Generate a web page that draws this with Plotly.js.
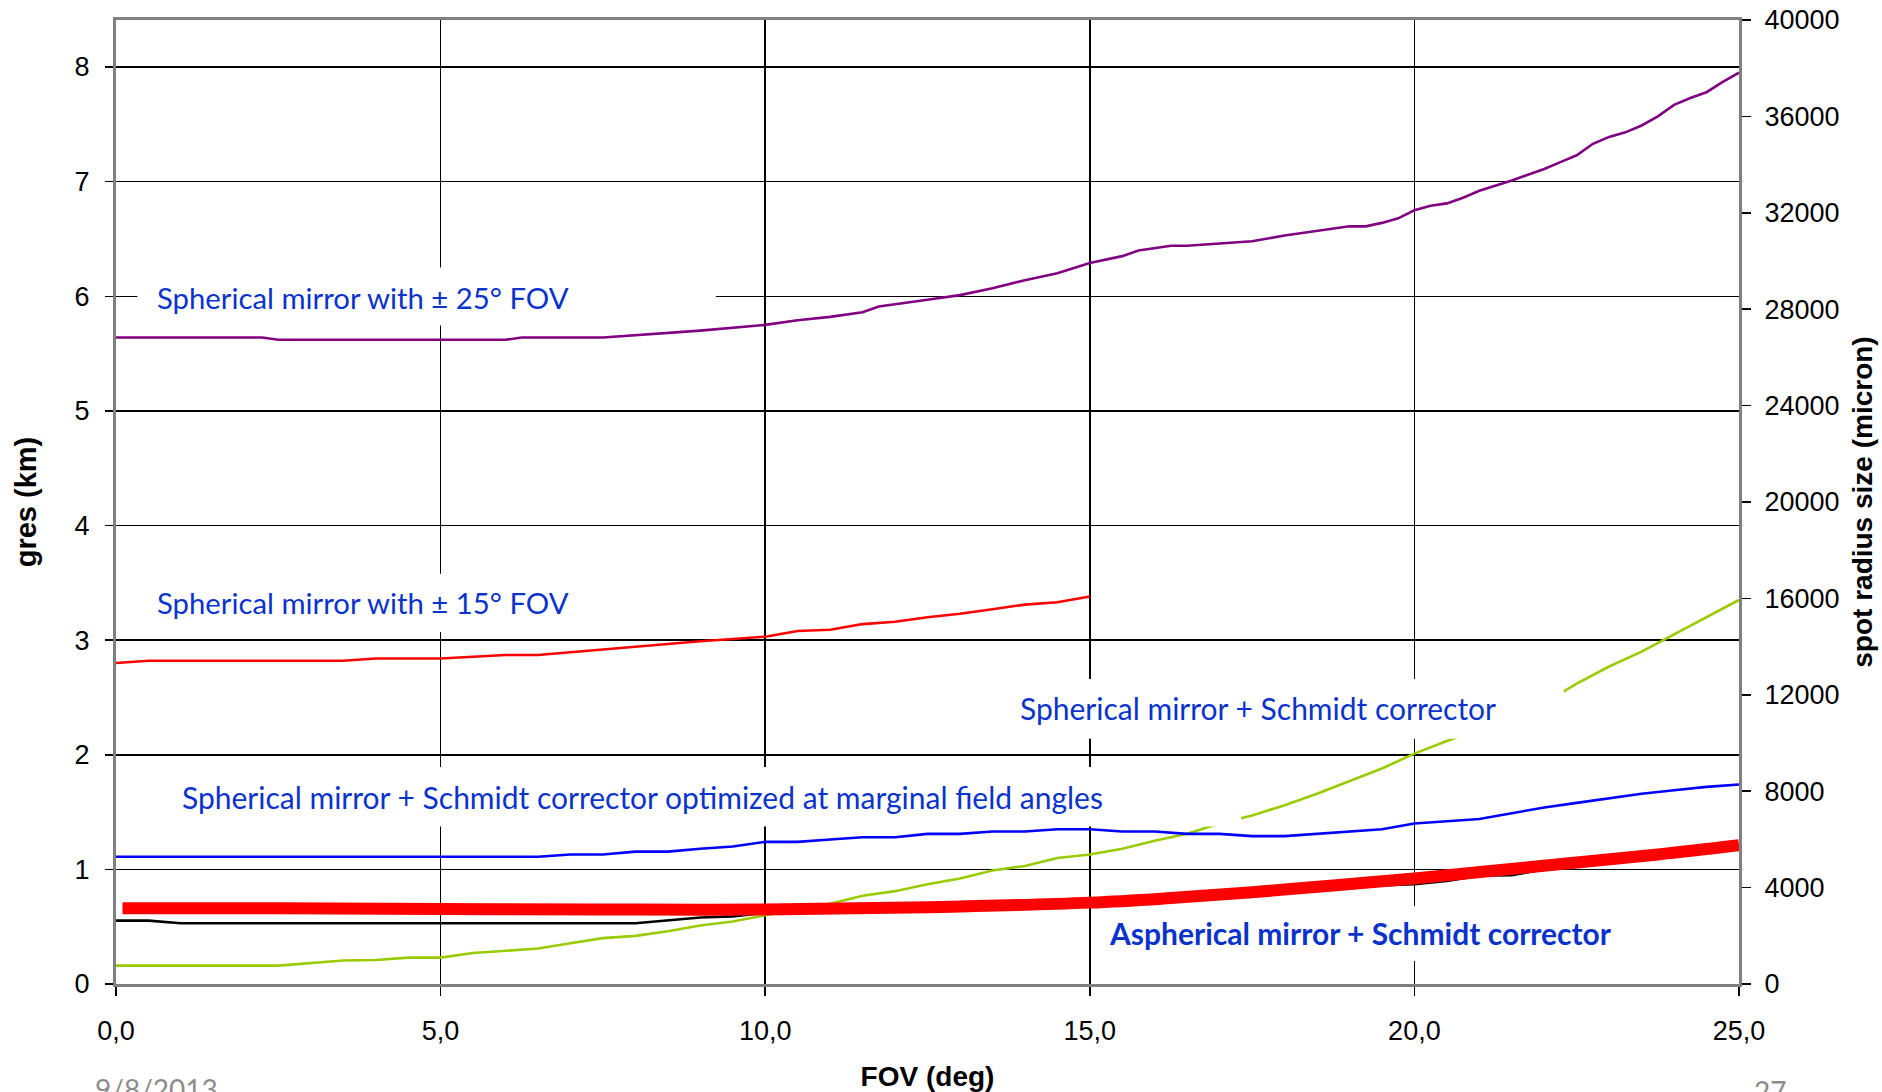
<!DOCTYPE html>
<html>
<head>
<meta charset="utf-8">
<script src="https://cdn.plot.ly/plotly-3.0.1.min.js"></script>
<style>
  html, body { margin: 0; padding: 0; background: #ffffff; overflow: hidden; }
  #chart { width: 1882px; height: 1092px; }
</style>
</head>
<body>
<div id="chart"></div>
<script>
// ---------------- data ----------------
// Spherical mirror with +-25 deg FOV (purple)
const fov25X = [0, 0.5, 2.25, 2.5, 6.0, 6.25, 7.5, 9.0, 10.0, 10.5, 11.0, 11.5, 11.75, 12.5, 13.0, 13.5, 14.0, 14.5, 15.0, 15.5, 15.75, 16.25, 16.5, 17.0, 17.5, 18.0, 18.5, 19.0, 19.25, 19.5, 19.75, 20.0, 20.25, 20.5, 20.75, 21.0, 21.5, 21.75, 22.0, 22.25, 22.5, 22.75, 23.0, 23.25, 23.5, 23.75, 24.0, 24.25, 24.5, 24.75, 25.0];
const fov25Y = [5.64, 5.64, 5.64, 5.62, 5.62, 5.64, 5.64, 5.70, 5.75, 5.79, 5.82, 5.86, 5.91, 5.97, 6.01, 6.07, 6.14, 6.20, 6.29, 6.35, 6.40, 6.44, 6.44, 6.46, 6.48, 6.53, 6.57, 6.61, 6.61, 6.64, 6.68, 6.75, 6.79, 6.81, 6.86, 6.92, 7.01, 7.06, 7.11, 7.17, 7.23, 7.33, 7.39, 7.43, 7.49, 7.57, 7.67, 7.73, 7.78, 7.87, 7.95];

// Spherical mirror with +-15 deg FOV (red, thin)
const fov15X = [0, 0.5, 3.5, 4.0, 5.0, 6.0, 6.5, 7.5, 8.0, 8.5, 9.0, 9.5, 10.0, 10.5, 11.0, 11.5, 12.0, 12.5, 13.0, 13.5, 14.0, 14.5, 15.0];
const fov15Y = [2.80, 2.82, 2.82, 2.84, 2.84, 2.87, 2.87, 2.92, 2.94, 2.97, 2.99, 3.01, 3.03, 3.08, 3.09, 3.14, 3.16, 3.20, 3.23, 3.27, 3.31, 3.33, 3.38];

// Spherical mirror + Schmidt corrector (green)
const schmidtX = [0, 2.5, 3.5, 4.0, 4.5, 5.0, 5.5, 6.0, 6.5, 7.0, 7.5, 8.0, 8.5, 9.0, 9.5, 10.0, 10.5, 11.0, 11.5, 12.0, 12.5, 13.0, 13.5, 14.0, 14.5, 15.0, 15.5, 16.0, 16.5, 17.0, 17.5, 18.0, 18.5, 19.0, 19.5, 20.0, 20.5, 21.0, 21.5, 22.0, 22.5, 23.0, 23.5, 24.0, 24.5, 25.0];
const schmidtY = [0.16, 0.16, 0.205, 0.21, 0.23, 0.23, 0.27, 0.29, 0.31, 0.355, 0.40, 0.42, 0.46, 0.51, 0.545, 0.60, 0.65, 0.70, 0.77, 0.81, 0.87, 0.92, 0.99, 1.03, 1.10, 1.13, 1.18, 1.25, 1.31, 1.40, 1.47, 1.56, 1.66, 1.77, 1.88, 2.01, 2.12, 2.22, 2.33, 2.45, 2.62, 2.77, 2.90, 3.05, 3.20, 3.35];

// Spherical mirror + Schmidt corrector optimized at marginal field angles (blue)
const optX = [0, 6.5, 7.0, 7.5, 8.0, 8.5, 9.0, 9.5, 10.0, 10.5, 11.0, 11.5, 12.0, 12.5, 13.0, 13.5, 14.0, 14.5, 15.0, 15.5, 16.0, 16.5, 17.0, 17.5, 18.0, 18.5, 19.0, 19.5, 20.0, 20.5, 21.0, 21.5, 22.0, 22.5, 23.0, 23.5, 24.0, 24.5, 25.0];
const optY = [1.11, 1.11, 1.13, 1.13, 1.155, 1.155, 1.18, 1.20, 1.24, 1.24, 1.26, 1.28, 1.28, 1.31, 1.31, 1.33, 1.33, 1.35, 1.35, 1.33, 1.33, 1.31, 1.31, 1.29, 1.29, 1.31, 1.33, 1.35, 1.40, 1.42, 1.44, 1.49, 1.54, 1.58, 1.62, 1.66, 1.69, 1.72, 1.74];

// black reference curve (mostly hidden under the thick red curve)
const blackX = [0, 0.5, 1.0, 8.0, 9.0, 9.5, 10.0, 11.0, 12.0, 13.0, 14.0, 15.0, 16.0, 17.0, 18.0, 19.0, 20.0, 20.5, 21.0, 21.5, 22.0, 22.5, 23.0, 24.0, 25.0];
const blackY = [0.553, 0.553, 0.53, 0.53, 0.58, 0.59, 0.62, 0.635, 0.645, 0.66, 0.675, 0.69, 0.72, 0.76, 0.80, 0.85, 0.87, 0.90, 0.945, 0.95, 1.00, 1.03, 1.07, 1.13, 1.19];

// Aspherical mirror + Schmidt corrector (thick red)
const asphX = [0.1, 2.5, 5.0, 7.5, 10.0, 12.5, 15.0, 16.25, 17.5, 18.75, 20.0, 21.25, 22.5, 23.75, 25.0];
const asphY = [0.66, 0.66, 0.655, 0.65, 0.65, 0.67, 0.71, 0.75, 0.80, 0.86, 0.92, 0.99, 1.06, 1.13, 1.21];

// ticks
const xTickVals = [0, 5, 10, 15, 20, 25];
const xTickText = ['0,0', '5,0', '10,0', '15,0', '20,0', '25,0'];
const yTickVals = [0, 1, 2, 3, 4, 5, 6, 7, 8];
const y2TickVals = [0, 4000, 8000, 12000, 16000, 20000, 24000, 28000, 32000, 36000, 40000];
const y2TickText = ['0', '4000', '8000', '12000', '16000', '20000', '24000', '28000', '32000', '36000', '40000'];

// labels
const labelTexts = [
  'Spherical mirror with \u00b1 25\u00b0 FOV',
  'Spherical mirror with \u00b1 15\u00b0 FOV',
  'Spherical mirror + Schmidt corrector',
  'Spherical mirror + Schmidt corrector optimized at marginal field angles',
  '<b>Aspherical mirror + Schmidt corrector</b>'
];
const footerDate = '9/8/2013';
const footerPage = '27';

// ---------------- chart ----------------
function line(x, y, color, width, name, shape) {
  return {
    type: 'scatter', mode: 'lines', x: x, y: y, name: name,
    line: { color: color, width: width, shape: shape || 'linear' },
    hoverinfo: 'skip', showlegend: false
  };
}

const traces = [
  line(fov25X, fov25Y, '#800080', 2.6, 'Spherical mirror with ±25° FOV'),
  line(fov15X, fov15Y, '#ff0000', 2.6, 'Spherical mirror with ±15° FOV'),
  line(blackX, blackY, '#000000', 2.6, 'reference'),
  line(schmidtX, schmidtY, '#99cc00', 2.6, 'Spherical mirror + Schmidt corrector'),
  line(optX, optY, '#0000ff', 2.6, 'optimized at marginal field angles'),
  line(asphX, asphY, '#ff0000', 12, 'Aspherical mirror + Schmidt corrector', 'spline'),
  // empty series that attaches the secondary (spot radius) axis
  { type: 'scatter', mode: 'lines', x: [], y: [], yaxis: 'y2', hoverinfo: 'skip', showlegend: false }
];

const labelColor = '#0a33cc';
const labelFamily = 'Lato, "Open Sans", sans-serif';

function label(text, x, y, size) {
  return { text: text, x: x, y: y, xref: 'x', yref: 'y', xanchor: 'left', yanchor: 'middle',
           showarrow: false, font: { family: labelFamily, size: size, color: labelColor } };
}

function box(x0, x1, y0, y1, layer) {
  return { type: 'rect', xref: 'x', yref: 'y', x0: x0, x1: x1, y0: y0, y1: y1,
           fillcolor: '#ffffff', line: { width: 0 }, layer: layer };
}

const tickFont = { family: '"Liberation Sans", Arial, sans-serif', size: 27, color: '#000000' };
const titleFont = { family: '"Liberation Sans", Arial, sans-serif', size: 28, color: '#000000' };

const layout = {
  width: 1882, height: 1092,
  margin: { l: 116, r: 143, t: 20, b: 108, pad: 0 },
  paper_bgcolor: '#ffffff', plot_bgcolor: '#ffffff',
  font: { family: '"Liberation Sans", Arial, sans-serif', size: 26, color: '#000000' },
  showlegend: false,
  xaxis: {
    range: [0, 25], tickvals: xTickVals, ticktext: xTickText,
    showgrid: true, gridcolor: '#000000', gridwidth: 1.5, zeroline: false,
    showline: true, linecolor: '#808080', linewidth: 3, mirror: true,
    ticks: 'outside', ticklen: 9, tickcolor: '#000000', tickwidth: 1.5,
    ticklabelstandoff: 12,
    tickfont: tickFont,
    title: { text: '<b>FOV (deg)</b>', font: titleFont, standoff: 24 }
  },
  yaxis: {
    range: [0, 8.41], tickvals: yTickVals,
    showgrid: true, gridcolor: '#000000', gridwidth: 1.5, zeroline: false,
    showline: true, linecolor: '#808080', linewidth: 3,
    ticks: 'outside', ticklen: 8, tickcolor: '#000000', tickwidth: 1.5,
    ticklabelstandoff: 10,
    tickfont: tickFont,
    title: { text: '<b>gres (km)</b>', font: { family: titleFont.family, size: 29, color: '#000000' }, standoff: 30 }
  },
  yaxis2: {
    overlaying: 'y', side: 'right', anchor: 'x',
    range: [0, 40000], tickvals: y2TickVals, ticktext: y2TickText,
    showgrid: false, zeroline: false,
    showline: true, linecolor: '#808080', linewidth: 3,
    ticks: 'outside', ticklen: 9, tickcolor: '#000000', tickwidth: 1.5,
    ticklabelstandoff: 8,
    tickfont: tickFont,
    title: { text: '<b>spot radius size (micron)</b>', font: titleFont, standoff: 14 }
  },
  shapes: [
    box(0.33, 9.24, 5.745, 6.25, 'between'),
    box(0.33, 9.24, 3.07, 3.58, 'between'),
    box(0.75, 17.33, 1.375, 1.893, 'above'),
    box(13.6, 22.3, 2.14, 2.66, 'above'),
    box(15.1, 23.3, 0.20, 0.68, 'between')
  ],
  annotations: [
    label(labelTexts[0], 0.6, 5.99, 29.3),
    label(labelTexts[1], 0.6, 3.325, 29.3),
    label(labelTexts[2], 13.9, 2.41, 30),
    label(labelTexts[3], 0.99, 1.63, 30),
    label(labelTexts[4], 15.27, 0.445, 30),
    { text: footerDate, xref: 'paper', yref: 'paper', x: -0.0142, y: -0.089, xanchor: 'left', yanchor: 'top',
      showarrow: false, font: { family: labelFamily, size: 28, color: '#8c8c8c' } },
    { text: footerPage, xref: 'paper', yref: 'paper', x: 1.0078, y: -0.091, xanchor: 'left', yanchor: 'top',
      showarrow: false, font: { family: labelFamily, size: 28, color: '#8c8c8c' } }
  ]
};

Plotly.newPlot('chart', traces, layout, { staticPlot: true, displayModeBar: false });
</script>
</body>
</html>
